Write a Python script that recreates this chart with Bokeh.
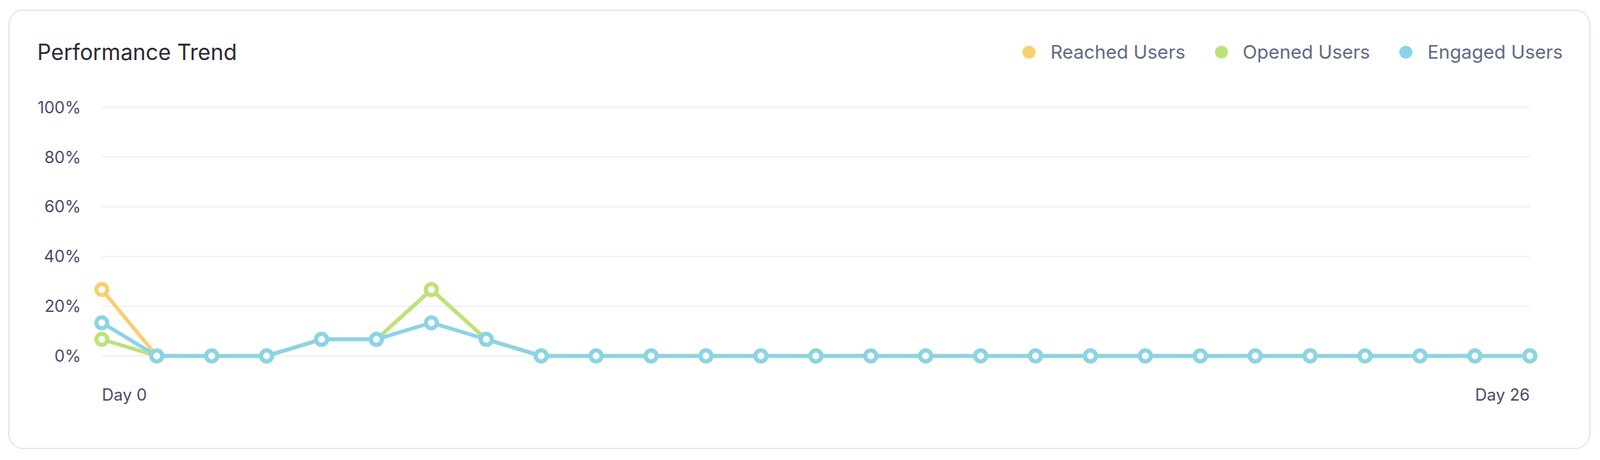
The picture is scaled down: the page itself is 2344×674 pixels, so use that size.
from bokeh.plotting import figure
from bokeh.models import Range1d, Label, Legend, LegendItem
from bokeh.core.properties import value
from bokeh.embed import file_html
from bokeh.resources import INLINE

# ---- data ----
days = list(range(27))
reached = [26.67, 0, 0, 0, 6.67, 6.67, 26.67, 6.67] + [0] * 19
opened = [6.67, 0, 0, 0, 6.67, 6.67, 26.67, 6.67] + [0] * 19
engaged = [13.33, 0, 0, 0, 6.67, 6.67, 13.33, 6.67] + [0] * 19
series_names = ["Reached Users", "Opened Users", "Engaged Users"]
y_ticks = [0, 20, 40, 60, 80, 100]
y_tick_labels = ["0%", "20%", "40%", "60%", "80%", "100%"]
x_label_days = [0, 26]
x_labels = ["Day 0", "Day 26"]
title_text = "Performance Trend"

colors = ["#F7D06E", "#BEE27A", "#8AD4E6"]
FONT = "Inter"

W, H = 2318, 644
FL, FR, FT, FB = 0, W, 0, H             # frame edges in canvas px
X0_PX, X26_PX = 134.7, 2226.7           # canvas px of day 0 / day 26
Y0_PX, Y100_PX = 505.0, 140.7           # canvas px of 0% / 100%
ppx = (X26_PX - X0_PX) / 26
ppy = (Y0_PX - Y100_PX) / 100
x_start = -(X0_PX - FL) / ppx
x_end = 26 + (FR - X26_PX) / ppx
y_end = 100 + (Y100_PX - FT) / ppy
y_start = -(FB - Y0_PX) / ppy

def dx(px):
    return x_start + (px - FL) / ppx

def dy(py):
    return (Y0_PX - py) / ppy

p = figure(width=W, height=H, output_backend="svg", toolbar_location=None,
           x_range=Range1d(x_start, x_end), y_range=Range1d(y_start, y_end),
           min_border=0, outline_line_color=None,
           background_fill_color="white", border_fill_color="white")
p.margin = (14, 0, 0, 12)
p.styles = {"border": "2px solid #E6E6E8", "border-radius": "22px", "overflow": "hidden"}

p.xgrid.visible = False
p.ygrid.visible = False
p.xaxis.visible = False
p.yaxis.visible = False

# gridlines spanning day 0 .. day 26
p.segment(x0=[days[0]] * len(y_ticks), x1=[days[-1]] * len(y_ticks), y0=y_ticks, y1=y_ticks,
          line_color="#F0F0F2", line_width=2)

# y tick labels
p.text(x=[dx(104)] * len(y_ticks), y=y_ticks, text=y_tick_labels, text_align="right",
       text_baseline="middle", text_font=value(FONT), text_font_size="24px", text_color="#4A4A68")

legend_items = []
for name, vals, c in zip(series_names, [reached, opened, engaged], colors):
    dot = p.scatter(days, vals, size=19, marker="circle", fill_color=c, line_color=None)
    p.line(days, vals, line_color=c, line_width=5.5)
    p.scatter(days, vals, size=16, marker="circle", fill_color="white", line_color=c, line_width=6)
    legend_items.append(LegendItem(label=name, renderers=[dot]))

legend = Legend(items=legend_items, orientation="horizontal", location=(1469, H - 84),
                glyph_width=48, glyph_height=48, label_standoff=8, spacing=28,
                margin=0, padding=0, border_line_color=None, background_fill_alpha=0,
                label_text_font=FONT, label_text_font_size="27.5px", label_text_color="#5E6A84")
p.add_layout(legend, "center")

p.add_layout(Label(x=dx(40), y=dy(60), text=title_text, text_font=FONT, text_font_size="32px",
                   text_color="#2A2A33", text_baseline="alphabetic", text_align="left"))

for d, lab, align in zip(x_label_days, x_labels, ["left", "right"]):
    p.add_layout(Label(x=d, y=dy(562), text=lab, text_font=FONT, text_font_size="24px",
                       text_color="#4A4A68", text_baseline="alphabetic", text_align=align))

open("out.html", "w").write(file_html(p, INLINE))
